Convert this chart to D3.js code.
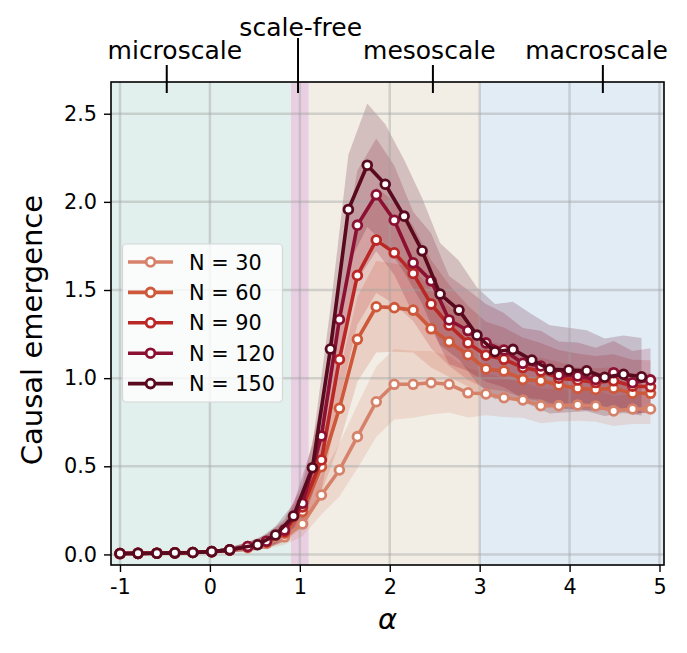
<!DOCTYPE html>
<html lang="en">
<head>
<meta charset="UTF-8">
<title>Causal emergence vs alpha</title>
<script src="https://d3js.org/d3.v7.min.js"></script>
<style>
    body { margin: 0; background: #fff; }
    svg text { font-family: "DejaVu Sans", sans-serif; fill: #000; }
</style>
</head>
<body>
<svg width="687" height="653"></svg>
<script>
// alpha values (shared by N = 30 ... 120)
const alphaGrid = [-1, -0.8, -0.59, -0.39, -0.19, 0.02, 0.22, 0.42, 0.63, 0.83, 1.03, 1.24, 1.44, 1.64, 1.85,
    2.05, 2.26, 2.46, 2.66, 2.87, 3.07, 3.27, 3.48, 3.68, 3.88, 4.09, 4.29, 4.49, 4.7, 4.9];
// N = 150 is sampled half a step later from 0.5 on
const alpha150 = [-1, -0.8, -0.59, -0.39, -0.19, 0.02, 0.22, 0.53, 0.73, 0.93, 1.14, 1.34, 1.54, 1.75, 1.95,
    2.16, 2.36, 2.56, 2.77, 2.97, 3.17, 3.37, 3.58, 3.78, 3.99, 4.19, 4.39, 4.6, 4.8];

const mean30 = [0.005, 0.006, 0.007, 0.009, 0.011, 0.015, 0.024, 0.038, 0.062, 0.10, 0.173, 0.337, 0.479, 0.668, 0.866,
    0.965, 0.965, 0.974, 0.965, 0.917, 0.910, 0.889, 0.876, 0.844, 0.844, 0.848, 0.842, 0.814, 0.825, 0.825];
const mean60 = [0.005, 0.006, 0.007, 0.009, 0.011, 0.016, 0.025, 0.042, 0.07, 0.12, 0.243, 0.498, 0.829, 1.22, 1.405,
    1.40, 1.386, 1.28, 1.206, 1.133, 1.052, 1.04, 0.993, 0.985, 0.961, 0.942, 0.936, 0.942, 0.914, 0.914];
const mean90 = [0.005, 0.006, 0.007, 0.009, 0.011, 0.016, 0.026, 0.044, 0.073, 0.13, 0.27, 0.536, 1.106, 1.583, 1.783,
    1.711, 1.594, 1.42, 1.30, 1.20, 1.13, 1.107, 1.06, 1.04, 1.0, 0.99, 0.975, 0.985, 0.955, 0.951];
const mean120 = [0.005, 0.006, 0.007, 0.009, 0.011, 0.016, 0.026, 0.045, 0.075, 0.139, 0.29, 0.672, 1.333, 1.868, 2.04,
    1.896, 1.654, 1.552, 1.33, 1.27, 1.2, 1.159, 1.084, 1.069, 1.018, 1.012, 0.993, 1.031, 0.974, 0.99];
const mean150 = [0.005, 0.006, 0.007, 0.009, 0.011, 0.016, 0.026, 0.055, 0.11, 0.218, 0.492, 1.165, 1.957, 2.208, 2.10,
    1.919, 1.722, 1.477, 1.386, 1.244, 1.15, 1.163, 1.103, 1.05, 1.046, 1.042, 1.005, 1.022, 1.008];

// spread (std) around each curve
const sd30 = [0.003, 0.003, 0.004, 0.005, 0.006, 0.008, 0.012, 0.02, 0.03, 0.045, 0.07, 0.11, 0.15, 0.18, 0.2,
    0.2, 0.19, 0.18, 0.16, 0.14, 0.12, 0.11, 0.1, 0.1, 0.09, 0.09, 0.09, 0.085, 0.085, 0.085];
const sd60 = [0.003, 0.003, 0.004, 0.005, 0.006, 0.008, 0.012, 0.022, 0.035, 0.05, 0.09, 0.15, 0.2, 0.24, 0.26,
    0.25, 0.24, 0.22, 0.2, 0.18, 0.16, 0.15, 0.14, 0.13, 0.13, 0.12, 0.12, 0.12, 0.115, 0.115];
const sd90 = [0.003, 0.003, 0.004, 0.005, 0.006, 0.008, 0.013, 0.024, 0.038, 0.055, 0.1, 0.17, 0.24, 0.28, 0.3,
    0.29, 0.27, 0.25, 0.23, 0.21, 0.19, 0.18, 0.17, 0.16, 0.16, 0.15, 0.15, 0.15, 0.15, 0.15];
const sd120 = [0.003, 0.003, 0.004, 0.005, 0.006, 0.008, 0.013, 0.025, 0.04, 0.06, 0.11, 0.19, 0.27, 0.31, 0.32,
    0.31, 0.29, 0.27, 0.25, 0.23, 0.22, 0.21, 0.2, 0.2, 0.19, 0.19, 0.18, 0.18, 0.18, 0.18];
const sd150 = [0.003, 0.003, 0.004, 0.005, 0.006, 0.008, 0.014, 0.03, 0.05, 0.07, 0.13, 0.23, 0.31, 0.35, 0.34,
    0.32, 0.3, 0.29, 0.28, 0.27, 0.27, 0.27, 0.26, 0.25, 0.24, 0.23, 0.22, 0.22, 0.22];

const seriesNames = ["N = 30", "N = 60", "N = 90", "N = 120", "N = 150"];
const seriesColors = ["#d6826a", "#ce583a", "#ba2826", "#8c1032", "#5a0a1e"];

// regime shading and top labels
const regionNames = ["microscale", "scale-free", "mesoscale", "macroscale"];
const regionStart = [-1.1, 0.9, 1.1, 3];
const regionEnd = [0.9, 1.1, 3, 5.05];
const regionColors = ["#e1f0ec", "#e8cfe2", "#f2eee6", "#e2ecf5"];
const regionTickAlpha = [-0.48, 0.98, 2.48, 4.37];
const regionLabelAlpha = [-0.39, 1.01, 2.44, 4.3];

const xTicks = [-1, 0, 1, 2, 3, 4, 5];
const yTicks = [0, 0.5, 1, 1.5, 2, 2.5];

const series = [
    { name: seriesNames[0], color: seriesColors[0], xs: alphaGrid, m: mean30, s: sd30 },
    { name: seriesNames[1], color: seriesColors[1], xs: alphaGrid, m: mean60, s: sd60 },
    { name: seriesNames[2], color: seriesColors[2], xs: alphaGrid, m: mean90, s: sd90 },
    { name: seriesNames[3], color: seriesColors[3], xs: alphaGrid, m: mean120, s: sd120 },
    { name: seriesNames[4], color: seriesColors[4], xs: alpha150, m: mean150, s: sd150 }
].map(d => ({ ...d, pts: d.xs.map((a, i) => ({ a: a, v: d.m[i], sd: d.s[i] })) }));

const W = 687, H = 653;
const margin = { top: 82, right: 23, bottom: 88, left: 111 };

const x = d3.scaleLinear().domain([-1.1, 5.05]).range([margin.left, W - margin.right]);
const y = d3.scaleLinear().domain([-0.06, 2.68]).range([H - margin.bottom, margin.top]);

const svg = d3.select("svg");

svg.append("clipPath").attr("id", "plot")
    .append("rect")
    .attr("x", margin.left).attr("y", margin.top)
    .attr("width", W - margin.left - margin.right)
    .attr("height", H - margin.top - margin.bottom);

const plot = svg.append("g").attr("clip-path", "url(#plot)");

// background regimes
plot.selectAll(".region")
    .data(regionNames)
    .enter().append("rect")
    .attr("x", (d, i) => x(regionStart[i]))
    .attr("width", (d, i) => x(regionEnd[i]) - x(regionStart[i]))
    .attr("y", margin.top)
    .attr("height", H - margin.top - margin.bottom)
    .attr("fill", (d, i) => regionColors[i]);

// std bands
const band = d3.area()
    .x(p => x(p.a))
    .y0(p => y(p.v - p.sd))
    .y1(p => y(p.v + p.sd));

plot.selectAll(".band")
    .data(series)
    .enter().append("path")
    .attr("d", d => band(d.pts))
    .attr("fill", d => d.color)
    .attr("fill-opacity", 0.2);

// grid
plot.selectAll(".vgrid")
    .data(xTicks)
    .enter().append("line")
    .attr("x1", d => x(d)).attr("x2", d => x(d))
    .attr("y1", margin.top).attr("y2", H - margin.bottom)
    .attr("stroke", "#a0a0a0").attr("stroke-opacity", 0.4).attr("stroke-width", 2.5);

plot.selectAll(".hgrid")
    .data(yTicks)
    .enter().append("line")
    .attr("y1", d => y(d)).attr("y2", d => y(d))
    .attr("x1", margin.left).attr("x2", W - margin.right)
    .attr("stroke", "#a0a0a0").attr("stroke-opacity", 0.4).attr("stroke-width", 2.5);

// curves with hollow markers
const line = d3.line().x(p => x(p.a)).y(p => y(p.v));

series.forEach(s => {
    const g = plot.append("g");
    g.append("path")
        .attr("d", line(s.pts))
        .attr("fill", "none")
        .attr("stroke", s.color)
        .attr("stroke-width", 3.6)
        .attr("stroke-linejoin", "round");
    g.selectAll("circle")
        .data(s.pts)
        .enter().append("circle")
        .attr("cx", p => x(p.a))
        .attr("cy", p => y(p.v))
        .attr("r", 4.4)
        .attr("fill", "#fff")
        .attr("stroke", s.color)
        .attr("stroke-width", 2.8);
});

// axes
const xAxis = svg.append("g")
    .attr("transform", "translate(0," + (H - margin.bottom) + ")")
    .call(d3.axisBottom(x).tickValues(xTicks).tickFormat(d => String(d))
        .tickSize(7).tickPadding(7).tickSizeOuter(0));

const yAxis = svg.append("g")
    .attr("transform", "translate(" + margin.left + ",0)")
    .call(d3.axisLeft(y).tickValues(yTicks).tickFormat(d3.format(".1f"))
        .tickSize(7).tickPadding(7).tickSizeOuter(0));

[xAxis, yAxis].forEach(a => {
    a.select(".domain").remove();
    a.selectAll(".tick line").attr("stroke", "#000").attr("stroke-width", 1.4);
    a.selectAll(".tick text")
        .attr("font-family", "DejaVu Sans")
        .attr("font-size", 20.8)
        .attr("fill", "#000");
});

// frame
svg.append("rect")
    .attr("x", margin.left).attr("y", margin.top)
    .attr("width", W - margin.left - margin.right)
    .attr("height", H - margin.top - margin.bottom)
    .attr("fill", "none")
    .attr("stroke", "#000")
    .attr("stroke-width", 1.6);

// top regime ticks and labels
svg.selectAll(".rtick")
    .data(regionNames)
    .enter().append("line")
    .attr("x1", (d, i) => x(regionTickAlpha[i]))
    .attr("x2", (d, i) => x(regionTickAlpha[i]))
    .attr("y1", d => d === "scale-free" ? margin.top - 44 : margin.top - 17)
    .attr("y2", margin.top + 11)
    .attr("stroke", "#000")
    .attr("stroke-width", 2);

svg.selectAll(".rlabel")
    .data(regionNames)
    .enter().append("text")
    .attr("x", (d, i) => x(regionLabelAlpha[i]))
    .attr("y", d => d === "scale-free" ? 36 : 59)
    .attr("text-anchor", "middle")
    .attr("font-size", 25)
    .text(d => d);

// axis labels
svg.append("text")
    .attr("x", (margin.left + W - margin.right) / 2)
    .attr("y", 629)
    .attr("text-anchor", "middle")
    .attr("font-size", 29)
    .attr("font-style", "italic")
    .text("α");

svg.append("text")
    .attr("transform", "translate(42," + 330 + ") rotate(-90)")
    .attr("text-anchor", "middle")
    .attr("font-size", 29)
    .text("Causal emergence");

// legend
const legend = svg.append("g");
legend.append("rect")
    .attr("x", 122.5).attr("y", 244)
    .attr("width", 160).attr("height", 158)
    .attr("rx", 4)
    .attr("fill", "#fff").attr("fill-opacity", 0.8)
    .attr("stroke", "#d6d6d6").attr("stroke-width", 1.2);

const rows = legend.selectAll(".row")
    .data(series)
    .enter().append("g")
    .attr("transform", (d, i) => "translate(0," + (262 + i * 30.4) + ")");

rows.append("line")
    .attr("x1", 128).attr("x2", 173)
    .attr("stroke", d => d.color).attr("stroke-width", 3.6);
rows.append("circle")
    .attr("cx", 150.5).attr("r", 4.4)
    .attr("fill", "#fff")
    .attr("stroke", d => d.color).attr("stroke-width", 2.8);
rows.append("text")
    .attr("x", 189).attr("dy", "0.36em")
    .attr("font-size", 20.8)
    .text(d => d.name);
</script>
</body>
</html>
